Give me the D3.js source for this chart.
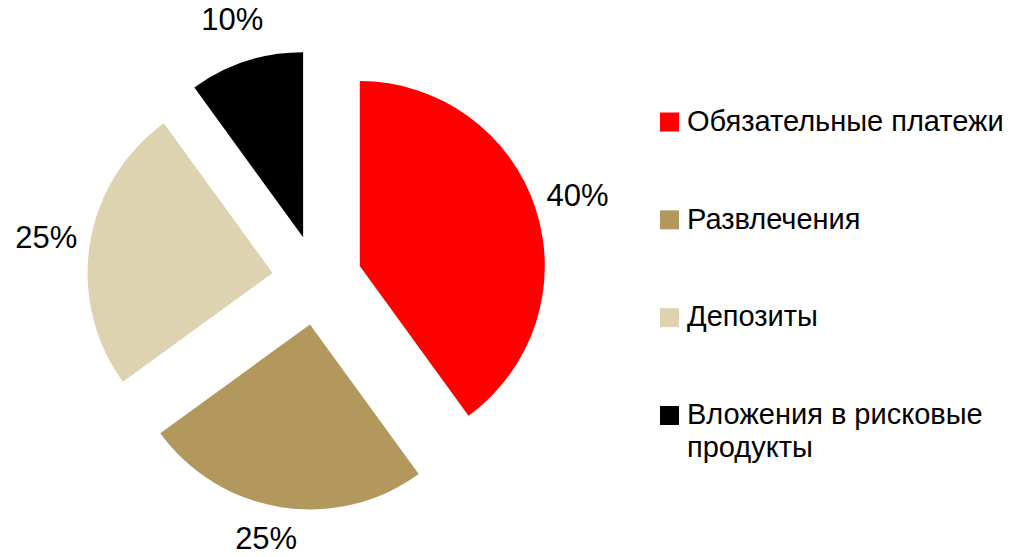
<!DOCTYPE html>
<html>
<head>
<meta charset="utf-8">
<script src="https://cdn.jsdelivr.net/npm/d3@7"></script>
<style>
    body { margin: 0; background: #fff; }
    svg { display: block; font-family: "Liberation Sans", Arial, sans-serif; }
</style>
</head>
<body>
<div id="chart"></div>
<script>
// data
const categories = ["Обязательные платежи", "Развлечения", "Депозиты", "Вложения в рисковые продукты"];
const shares = [40, 25, 25, 10];
const colors = ["#ff0000", "#b3985e", "#ddd3b0", "#000000"];

const width = 1012;
const height = 557;
const cx = 317, cy = 280;
const radius = 185;
const explode = 45;
const labelRadius = 274;

const svg = d3.select("#chart").append("svg")
    .attr("width", width)
    .attr("height", height);

const pie = d3.pie().sort(null).value(d => d);
const arc = d3.arc().innerRadius(0).outerRadius(radius);
const arcs = pie(shares);

const g = svg.append("g").attr("transform", "translate(" + cx + "," + cy + ")");

function mid(d) { return (d.startAngle + d.endAngle) / 2; }

g.selectAll("path")
    .data(arcs)
    .enter()
    .append("path")
    .attr("d", arc)
    .attr("fill", (d, i) => colors[i])
    .attr("transform", function (d) {
        const a = mid(d);
        return "translate(" + [Math.sin(a) * explode, -Math.cos(a) * explode] + ")";
    });

// percent labels, kept inside the picture
const maxY = height - 19 - cy;
g.selectAll("text.pct")
    .data(arcs)
    .enter()
    .append("text")
    .attr("class", "pct")
    .attr("text-anchor", "middle")
    .attr("dy", "0.35em")
    .style("font-size", "31px")
    .attr("x", function (d) {
        const a = mid(d);
        let r = labelRadius;
        if (-Math.cos(a) * r > maxY) r = maxY / -Math.cos(a);
        return Math.sin(a) * r - (r < labelRadius ? 10 : 0);
    })
    .attr("y", function (d) {
        const a = mid(d);
        return Math.min(-Math.cos(a) * labelRadius, maxY);
    })
    .text(d => d.data + "%");

// legend
const legendY = d3.scalePoint().domain(categories).range([122, 415.5]);
const legend = svg.append("g");

const item = legend.selectAll("g")
    .data(categories)
    .enter()
    .append("g")
    .attr("transform", d => "translate(660," + legendY(d) + ")");

item.append("rect")
    .attr("x", 0)
    .attr("y", -9.5)
    .attr("width", 19)
    .attr("height", 19)
    .attr("fill", (d, i) => colors[i]);

item.append("text")
    .attr("x", 27)
    .attr("dy", "0.3em")
    .style("font-size", "29px")
    .each(function (d) {
        // wrap long names onto a second line
        const text = d3.select(this);
        const words = d.split(" ");
        let line = [];
        let tspan = text.append("tspan").attr("x", 27);
        words.forEach(w => {
            line.push(w);
            tspan.text(line.join(" "));
            if (tspan.node().getComputedTextLength() > 324 && line.length > 1) {
                line.pop();
                tspan.text(line.join(" "));
                line = [w];
                tspan = text.append("tspan").attr("x", 27).attr("dy", "1.12em").text(w);
            }
        });
    });
</script>
</body>
</html>
